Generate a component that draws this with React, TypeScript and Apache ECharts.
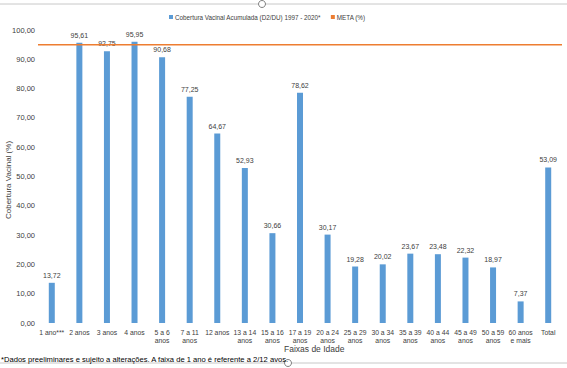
import React, { useEffect, useRef } from "react";
import * as echarts from "echarts";

const categories = [
  "1 ano***", "2 anos", "3 anos", "4 anos", "5 a 6\nanos", "7 a 11\nanos", "12 anos",
  "13 a 14\nanos", "15 a 16\nanos", "17 a 19\nanos", "20 a 24\nanos", "25 a 29\nanos",
  "30 a 34\nanos", "35 a 39\nanos", "40 a 44\nanos", "45 a 49\nanos", "50 a 59\nanos",
  "60 anos\ne mais", "Total",
];
const cobertura = [
  13.72, 95.61, 92.75, 95.95, 90.68, 77.25, 64.67, 52.93, 30.66, 78.62, 30.17,
  19.28, 20.02, 23.67, 23.48, 22.32, 18.97, 7.37, 53.09,
];
const meta = categories.map(() => 95);
const yTicks = [0, 10, 20, 30, 40, 50, 60, 70, 80, 90, 100];

const FONT = "'Liberation Sans', Arial, sans-serif";
const NARROW = "'Liberation Sans Narrow', 'Arial Narrow', 'Liberation Sans', Arial, sans-serif";

export default function App() {
  const ref = useRef<HTMLDivElement>(null);
  useEffect(() => {
    if (!ref.current) return;
    const chart = echarts.init(ref.current, null, { renderer: "svg" });
    const fmt = (v: number) => v.toFixed(2).replace(".", ",");
    chart.setOption({
      animation: false,
      backgroundColor: "#ffffff",
      textStyle: { fontFamily: FONT },
      legend: {
        top: 9,
        left: 164,
        itemWidth: 4,
        itemHeight: 4,
        itemGap: 10,
        icon: "rect",
        textStyle: { fontSize: 6.3, color: "#404040", fontFamily: NARROW, padding: [0, 0, 0, -3] },
        data: ["Cobertura Vacinal Acumulada (D2/DU) 1997 - 2020*", "META (%)"],
      },
      grid: { left: 38, right: 5, top: 30, bottom: 45, containLabel: false, outerBoundsMode: "none" },
      xAxis: [
        {
          type: "category",
          data: categories,
          axisLine: { show: false },
          axisTick: { show: false },
          axisLabel: {
            interval: 0,
            fontSize: 6.8,
            color: "#404040",
            lineHeight: 8.5,
            margin: 5,
            fontFamily: NARROW,
          },
        },
        {
          type: "category",
          data: categories,
          boundaryGap: false,
          show: false,
        },
      ],
      yAxis: {
        type: "value",
        min: 0,
        max: 100,
        interval: 10,
        splitLine: { show: false },
        axisLine: { show: false },
        axisTick: { show: false },
        axisLabel: {
          fontSize: 7.5,
          color: "#404040",
          margin: 3,
          fontFamily: NARROW,
          formatter: (v: number) => (yTicks.includes(v) ? fmt(v) : ""),
        },
      },
      series: [
        {
          name: "Cobertura Vacinal Acumulada (D2/DU) 1997 - 2020*",
          type: "bar",
          data: cobertura,
          barWidth: 6,
          itemStyle: { color: "#5B9BD5" },
          label: {
            show: true,
            position: "top",
            distance: 4,
            fontSize: 7,
            color: "#404040",
            fontFamily: NARROW,
            formatter: (p: any) => fmt(p.value),
          },
        },
        {
          name: "META (%)",
          type: "line",
          xAxisIndex: 1,
          data: meta,
          symbol: "none",
          lineStyle: { color: "#ED7D31", width: 1.5 },
          itemStyle: { color: "#ED7D31" },
        },
      ],
      graphic: [
        { type: "line", shape: { x1: 0, y1: 4, x2: 567, y2: 4 }, style: { stroke: "#c8c8c8", lineWidth: 1 } },
        { type: "circle", shape: { cx: 262, cy: 4, r: 3.5 }, style: { fill: "#ffffff", stroke: "#808080", lineWidth: 1 } },
        { type: "line", shape: { x1: 0, y1: 363, x2: 567, y2: 363 }, style: { stroke: "#c8c8c8", lineWidth: 1 } },
        { type: "circle", shape: { cx: 288, cy: 363, r: 3.5 }, style: { fill: "#ffffff", stroke: "#808080", lineWidth: 1 } },
        {
          type: "text",
          x: 8,
          y: 180,
          rotation: Math.PI / 2,
          style: {
            text: "Cobertura Vacinal (%)",
            fontSize: 8,
            fill: "#404040",
            fontFamily: NARROW,
            align: "center",
            verticalAlign: "middle",
          },
        },
        {
          type: "text",
          x: 284,
          y: 349,
          style: {
            text: "Faixas de Idade",
            fontSize: 8.5,
            fill: "#404040",
            fontFamily: NARROW,
            align: "left",
            verticalAlign: "middle",
          },
        },
        {
          type: "text",
          x: 1,
          y: 359,
          style: {
            text: "*Dados preeliminares e sujeito a alterações. A faixa de 1 ano é referente a 2/12 avos.",
            fontSize: 7.6,
            fill: "#000000",
            fontFamily: NARROW,
            align: "left",
            verticalAlign: "middle",
          },
        },
      ],
    });
    return () => chart.dispose();
  }, []);
  return <div ref={ref} style={{ width: 567, height: 368, position: "absolute", left: 0, top: 0 }} />;
}
